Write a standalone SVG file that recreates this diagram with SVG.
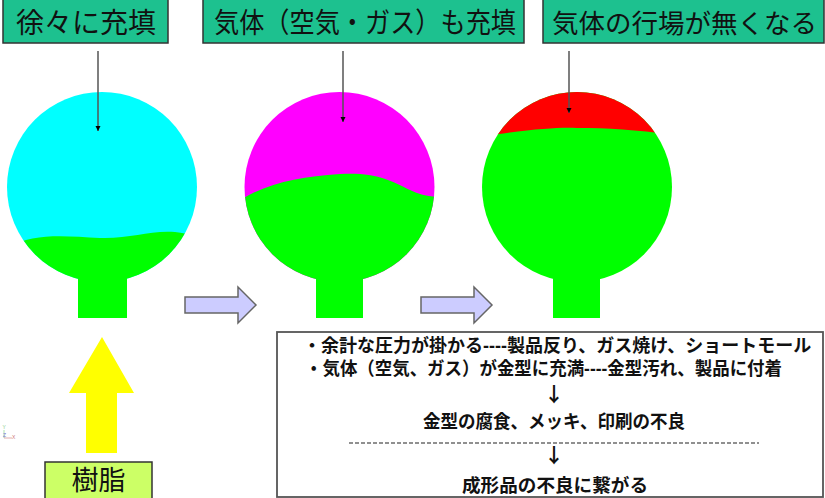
<svg xmlns="http://www.w3.org/2000/svg" width="825" height="498" viewBox="0 0 825 498">
<style>
.lbl{fill:#1DC18F;stroke:#333;stroke-width:1.5}
.t{font-family:"Liberation Sans","Noto Sans CJK JP",sans-serif;fill:#111}
.big{font-size:28px}
.b{font-size:18.5px;font-weight:bold}
.arr{font-family:"Noto Sans CJK JP","DejaVu Sans",sans-serif;font-size:20px;font-weight:bold;fill:#111}
.conn{stroke:#555;stroke-width:1.5;fill:none}
.blk{fill:#CCCCFF;stroke:#666;stroke-width:1.5;stroke-linejoin:miter}
</style>
<defs>
<marker id="ah" viewBox="0 0 10 10" refX="10" refY="5" markerWidth="5.5" markerHeight="5.5" orient="auto" markerUnits="userSpaceOnUse">
<path d="M0,0 L10,5 L0,10 Z" fill="#000"/>
</marker>
<clipPath id="c1"><circle cx="102" cy="187" r="95"/></clipPath>
<clipPath id="c2"><circle cx="339.5" cy="187" r="95"/></clipPath>
<clipPath id="c3"><circle cx="577" cy="187" r="95"/></clipPath>
</defs>
<rect width="825" height="498" fill="#fff"/>

<g id="label1"><rect class="lbl" x="3" y="-1" width="165" height="44"/><text class="t big" x="16" y="33">徐々に充填</text></g>
<g id="label2"><rect class="lbl" x="203" y="-1" width="321" height="44"/><text class="t big" x="214" y="33" textLength="302" lengthAdjust="spacingAndGlyphs">気体（空気・ガス）も充填</text></g>
<g id="label3"><rect class="lbl" x="543" y="-1" width="281" height="44"/><text class="t" x="552" y="33" font-size="26.5">気体の行場が無くなる</text></g>

<g id="mold1">
<circle cx="102" cy="187" r="95" fill="#00FFFF"/>
<path clip-path="url(#c1)" d="M0,252 C30,232 60,236 100,238 C130,239 150,230 175,232 C185,233 195,236 205,240 L205,300 L0,300 Z" fill="#00FF00"/>
<rect x="78" y="270" width="49" height="48" fill="#00FF00"/>
</g>
<g id="mold2">
<circle cx="339.5" cy="187" r="95" fill="#FF00FF"/>
<path clip-path="url(#c2)" d="M240,200 C270,182 300,177 340,174 C375,172 390,180 410,190 C420,195 430,197 440,197 L440,300 L240,300 Z" fill="#00FF00"/>
<rect x="316" y="270" width="47" height="48" fill="#00FF00"/>
</g>
<g id="mold3">
<circle cx="577" cy="187" r="95" fill="#00FF00"/>
<path clip-path="url(#c3)" d="M480,137 C530,129 560,127 577,128 C610,128 640,130 680,136 L680,80 L480,80 Z" fill="#FF0000"/>
<rect x="553" y="270" width="47" height="48" fill="#00FF00"/>
</g>

<g id="connectors">
<line class="conn" x1="98" y1="51" x2="98" y2="131" marker-end="url(#ah)"/>
<line class="conn" x1="343" y1="51" x2="343" y2="122" marker-end="url(#ah)"/>
<line class="conn" x1="569" y1="51" x2="569" y2="113" marker-end="url(#ah)"/>
</g>

<g id="step-arrow1"><path class="blk" d="M185,297 L238,297 L238,287 L256,305 L238,323 L238,313 L185,313 Z"/></g>
<g id="step-arrow2"><path class="blk" d="M421,297 L474,297 L474,287 L492,305 L474,323 L474,313 L421,313 Z"/></g>

<g id="resin-arrow"><path d="M102,337 L134,393 L117,393 L117,453 L86,453 L86,393 L69,393 Z" fill="#FFFF00"/></g>
<g id="resin"><rect x="45" y="462" width="107" height="40" fill="#CCFF66" stroke="#333" stroke-width="1.5"/><text class="t" x="98.5" y="490" font-size="27" text-anchor="middle">樹脂</text></g>

<g id="axis" font-family="Liberation Sans,sans-serif" font-size="5">
<line x1="4" y1="430" x2="4" y2="438" stroke="#7c7" stroke-width="0.6"/>
<line x1="4" y1="438" x2="12" y2="438" stroke="#c77" stroke-width="0.6"/>
<text x="2.5" y="429" fill="#8c8">Y</text>
<text x="3" y="437" fill="#77c">Z</text>
<text x="12" y="439" fill="#c77">X</text>
</g>

<g id="notes">
<rect x="277" y="332" width="546" height="165" fill="#fff" stroke="#555" stroke-width="1.8"/>
<text class="t" x="303" y="352" font-size="18" font-weight="bold">・余計な圧力が掛かる----製品反り、ガス焼け、ショートモール</text>
<text class="t b" x="305" y="375" textLength="477" lengthAdjust="spacingAndGlyphs">・気体（空気、ガス）が金型に充満----金型汚れ、製品に付着</text>
<text class="arr" x="554" y="402" text-anchor="middle">↓</text>
<text class="t b" x="554" y="428" text-anchor="middle" textLength="262" lengthAdjust="spacingAndGlyphs">金型の腐食、メッキ、印刷の不良</text>
<line x1="349" y1="443" x2="759" y2="443" stroke="#222" stroke-width="1.2" stroke-dasharray="4,2"/>
<text class="arr" x="554" y="463" text-anchor="middle">↓</text>
<text class="t b" x="555" y="492" text-anchor="middle" textLength="186" lengthAdjust="spacingAndGlyphs">成形品の不良に繋がる</text>
</g>
</svg>
